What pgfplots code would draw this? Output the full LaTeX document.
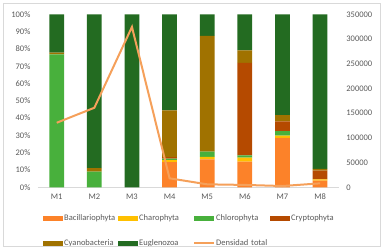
\documentclass[border=0pt]{standalone}
\usepackage{pgfplots}
\pgfplotsset{compat=1.18}
\usepackage{fontspec}
\setmainfont{Carlito}
\definecolor{cBac}{HTML}{FC8229}
\definecolor{cCha}{HTML}{FFC000}
\definecolor{cChl}{HTML}{48B03C}
\definecolor{cCry}{HTML}{B54A00}
\definecolor{cCya}{HTML}{A07200}
\definecolor{cEug}{HTML}{236B21}
\definecolor{cLine}{HTML}{F5A05A}
\definecolor{cTick}{HTML}{595959}
\definecolor{cGrid}{HTML}{D9D9D9}
\begin{document}
\begin{tikzpicture}[x=1pt,y=1pt]
\pgfplotsset{
  base/.style={
    scale only axis, width=301pt, height=173pt,
    at={(37.9pt,61.7pt)}, anchor=south west,
    xmin=0.5, xmax=8.5,
    major tick length=0pt,
    tick label style={font=\fontsize{8.5}{10}\selectfont, text=cTick},
    /pgf/number format/assume math mode=true,
    /pgf/number format/fixed,
    /pgf/number format/precision=0,
    /pgf/number format/set thousands separator={},
    scaled y ticks=false,
  }
}
\begin{axis}[base,
  ybar stacked, bar width=14.7pt,
  ymin=0, ymax=100, ytick={0,10,...,100},
  yticklabel={\pgfmathprintnumber{\tick}\%},
  yticklabel style={anchor=east, xshift=-4pt},
  xtick={1,...,8}, xticklabels={M1,M2,M3,M4,M5,M6,M7,M8},
  xticklabel style={yshift=-3pt},
  axis x line*=bottom, axis y line*=left,
  x axis line style={draw=cGrid, line width=0.8pt, -},
  y axis line style={draw=none},
  legend columns=4,
  legend cell align=left,
  legend style={draw=none, fill=none, inner sep=0pt,
    at={(axis description cs:0.017,-0.1486)}, anchor=north west,
    font=\fontsize{8.5}{10}\selectfont,
    text=cTick,
    column sep=0pt, row sep=15pt,
    nodes={inner sep=1pt, text height=6pt, text depth=2pt, text width=53pt, align=left}},
  legend image code/.code={\fill[#1] (0pt,-2.7pt) rectangle (20pt,2.7pt);},
]
\addplot[fill=cBac, draw=none] coordinates {(1,0)(2,0)(3,0)(4,14.5)(5,16.2)(6,14.8)(7,28.6)(8,3.8)};
\addlegendentry{Bacillariophyta}
\addplot[fill=cCha, draw=none] coordinates {(1,0)(2,0)(3,0)(4,1.2)(5,1.4)(6,2.3)(7,1.2)(8,0.8)};
\addlegendentry{Charophyta}
\addplot[fill=cChl, draw=none] coordinates {(1,76.9)(2,9)(3,0)(4,0.9)(5,3.0)(6,1.4)(7,2.7)(8,0)};
\addlegendentry{Chlorophyta}
\addplot[fill=cCry, draw=none] coordinates {(1,0)(2,0)(3,0)(4,0.8)(5,0)(6,53.4)(7,5.6)(8,5.0)};
\addlegendentry{Cryptophyta}
\addplot[fill=cCya, draw=none] coordinates {(1,1)(2,2.1)(3,0)(4,27)(5,66.9)(6,7.3)(7,3.6)(8,1.1)};
\addlegendentry{Cyanobacteria}
\addplot[fill=cEug, draw=none] coordinates {(1,22.1)(2,88.9)(3,100)(4,55.6)(5,12.5)(6,20.8)(7,58.3)(8,89.3)};
\addlegendentry{Euglenozoa}
\addlegendimage{legend image code/.code={\draw[cLine, line width=2pt] (0pt,0pt) -- (20pt,0pt);}}
\addlegendentry{Densidad total}
\end{axis}
\begin{axis}[base,
  ymin=0, ymax=350000, ytick={0,50000,...,350000},
  axis y line*=right, axis x line=none,
  y axis line style={draw=none},
  yticklabel style={anchor=west, xshift=4pt},
]
\addplot[cLine, line width=2pt, mark=none] coordinates {(1,130600)(2,160900)(3,324400)(4,18200)(5,6000)(6,4800)(7,2600)(8,8000)};
\end{axis}
\draw[cGrid, line width=0.6pt] (3,2.5) rectangle (380.5,246);
\pgfresetboundingbox
\path (0,0) rectangle (388,249);
\end{tikzpicture}
\end{document}
